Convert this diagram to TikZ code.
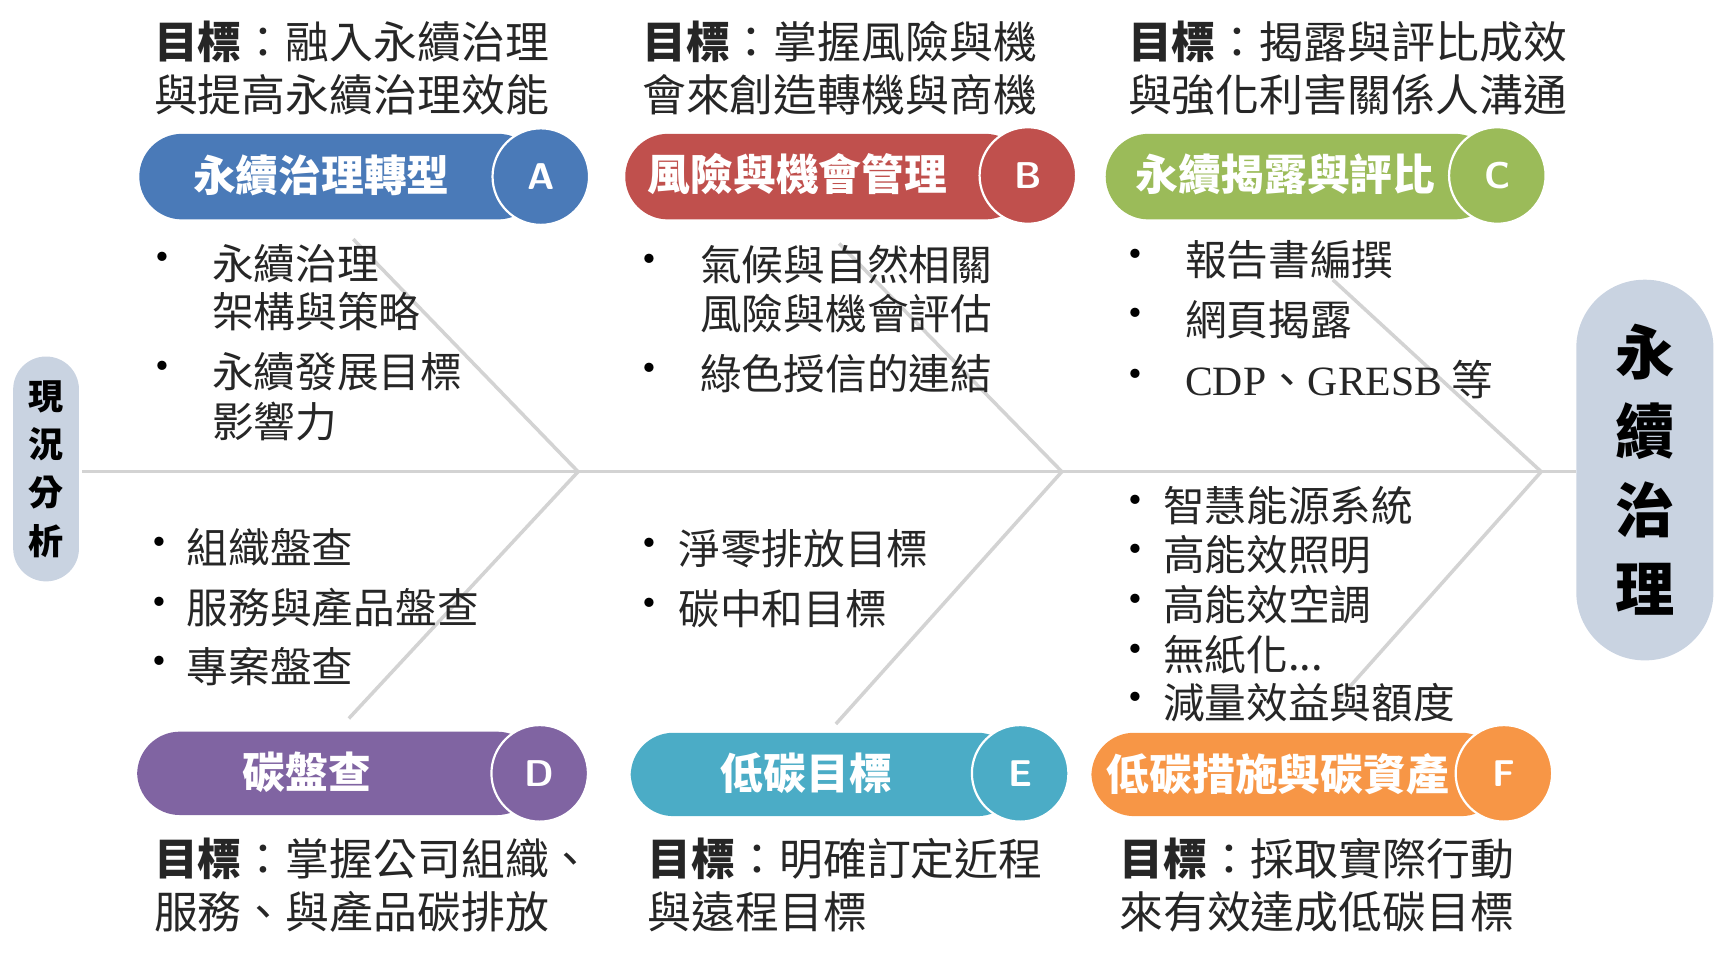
\documentclass[tikz,border=0pt]{standalone}
\usepackage{fontspec}
\setmainfont{Noto Sans CJK TC}
\newfontfamily\serifl{Liberation Serif}
\definecolor{cA}{HTML}{4A7AB8}
\definecolor{cB}{HTML}{C0504D}
\definecolor{cC}{HTML}{9BBB59}
\definecolor{cD}{HTML}{8064A2}
\definecolor{cE}{HTML}{4BACC6}
\definecolor{cF}{HTML}{F79646}
\definecolor{pillc}{HTML}{C9D3E1}
\definecolor{bone}{HTML}{D3D3D3}
\begin{document}
\begin{tikzpicture}[x=0.5pt,y=-0.5pt,
 bonel/.style={draw=bone,line width=1.6pt},
 txt/.style={anchor=west,inner sep=0pt,font=\fontsize{19}{20}\selectfont,text=black!85},
 goal/.style={anchor=west,inner sep=0pt,font=\fontsize{20}{24}\selectfont,align=left,text=black!85},
 bul/.style={anchor=center,inner sep=0pt,font=\fontsize{20}{20}\selectfont},
 rtxt/.style={text=white,font=\bfseries\fontsize{19.5}{20}\selectfont,inner sep=0pt},
 circ/.style={circle,draw=white,line width=1pt,minimum size=44pt,inner sep=0pt,text=white,font=\sffamily\bfseries\fontsize{17}{18}\selectfont}]
\useasboundingbox (0,0) rectangle (1568,882);
% spine
\coordinate (s0) at (75,430); \coordinate (s1) at (527,430);
\coordinate (s2) at (968,430); \coordinate (s3) at (1405,430);
\coordinate (ua) at (322,218); \coordinate (ub) at (765,222); \coordinate (uc) at (1215,255);
\coordinate (la) at (318,655); \coordinate (lb) at (762,660); \coordinate (lc) at (1218,640);
% pills
\fill[pillc,rounded corners=15pt] (12,325) rectangle (72,530);
\node (left) at (42,427.5) [align=center,font=\bfseries\fontsize{16}{22}\selectfont] {現\\況\\分\\析};
\fill[pillc,rounded corners=31pt] (1437,255) rectangle (1562,602);
\node (right) at (1499.5,428) [align=center,font=\bfseries\fontsize{27}{36}\selectfont] {永\\續\\治\\理};
\draw[bonel] (s0) -- (1437,430);
\draw[bonel] (ua) -- (s1) -- (la);
\draw[bonel] (ub) -- (s2) -- (lb);
\draw[bonel] (uc) -- (s3) -- (lc);
% ribbons
\fill[cA,rounded corners=19.5pt] (127,122) rectangle (493,200);
\node[circ,fill=cA] (A) at (493,161) {A};
\node[rtxt] (tA) at (293,160) {永續治理轉型};
\fill[cB,rounded corners=19.5pt] (570,122) rectangle (937,200);
\node[circ,fill=cB] (B) at (937,160) {B};
\node[rtxt] (tB) at (727,159) {風險與機會管理};
\fill[cC,rounded corners=19.5pt] (1008,122) rectangle (1365,200);
\node[circ,fill=cC] (C) at (1365,160) {C};
\node[rtxt] (tC) at (1172,159) {永續揭露與評比};
\fill[cD,rounded corners=19.5pt] (125,667) rectangle (492,743);
\node[circ,fill=cD] (D) at (492,705) {D};
\node[rtxt] (tD) at (280,704) {碳盤查};
\fill[cE,rounded corners=19.5pt] (575,668) rectangle (930,744);
\node[circ,fill=cE] (E) at (930,705) {E};
\node[rtxt] (tE) at (735,705) {低碳目標};
\fill[cF,rounded corners=19.5pt] (995,668) rectangle (1371,744);
\node[circ,fill=cF] (F) at (1371,705) {F};
\node[rtxt] (tF) at (1165,706) {低碳措施與碳資產};
% goals
\node[goal] (gA) at (140,62) {\textbf{目標}：融入永續治理\\與提高永續治理效能};
\node[goal] (gB) at (585,62) {\textbf{目標}：掌握風險與機\\會來創造轉機與商機};
\node[goal] (gC) at (1028,62) {\textbf{目標}：揭露與評比成效\\與強化利害關係人溝通};
\node[goal] (gD) at (140,807) {\textbf{目標}：掌握公司組織、\\服務、與產品碳排放};
\node[goal] (gE) at (590,807) {\textbf{目標}：明確訂定近程\\與遠程目標};
\node[goal] (gF) at (1020,807) {\textbf{目標}：採取實際行動\\來有效達成低碳目標};
% A bullets
\node[bul] (ba1) at (148,240) {•}; \node[txt] (a1) at (193,240) {永續治理};
\node[txt] (a2) at (193,284) {架構與策略};
\node[bul] (ba3) at (148,339) {•}; \node[txt] (a3) at (193,339) {永續發展目標};
\node[txt] (a4) at (193,384) {影響力};
% B
\node[bul] (bb1) at (592,241) {•}; \node[txt] (b1) at (638,241) {氣候與自然相關};
\node[txt] (b2) at (638,286) {風險與機會評估};
\node[bul] (bb3) at (592,341) {•}; \node[txt] (b3) at (638,341) {綠色授信的連結};
% C
\node[bul] (bc1) at (1035,237) {•}; \node[txt] (c1) at (1080,237) {報告書編撰};
\node[bul] (bc2) at (1035,291) {•}; \node[txt] (c2) at (1080,291) {網頁揭露};
\node[bul] (bc3) at (1035,346) {•}; \node[txt] (c3) at (1080,346) {{\serifl CDP}、{\serifl GRESB} 等};
% D
\node[bul] (bd1) at (145,499) {•}; \node[txt] (d1) at (170,499) {組織盤查};
\node[bul] (bd2) at (145,554) {•}; \node[txt] (d2) at (170,554) {服務與產品盤查};
\node[bul] (bd3) at (145,608) {•}; \node[txt] (d3) at (170,608) {專案盤查};
% E
\node[bul] (be1) at (592,500) {•}; \node[txt] (e1) at (618,500) {淨零排放目標};
\node[bul] (be2) at (592,555) {•}; \node[txt] (e2) at (618,555) {碳中和目標};
% F
\node[bul] (bf1) at (1035,461) {•}; \node[txt] (f1) at (1060,461) {智慧能源系統};
\node[bul] (bf2) at (1035,506) {•}; \node[txt] (f2) at (1060,506) {高能效照明};
\node[bul] (bf3) at (1035,551) {•}; \node[txt] (f3) at (1060,551) {高能效空調};
\node[bul] (bf4) at (1035,597) {•}; \node[txt] (f4) at (1060,597) {無紙化...};
\node[bul] (bf5) at (1035,641) {•}; \node[txt] (f5) at (1060,641) {減量效益與額度};
\end{tikzpicture}
\end{document}
